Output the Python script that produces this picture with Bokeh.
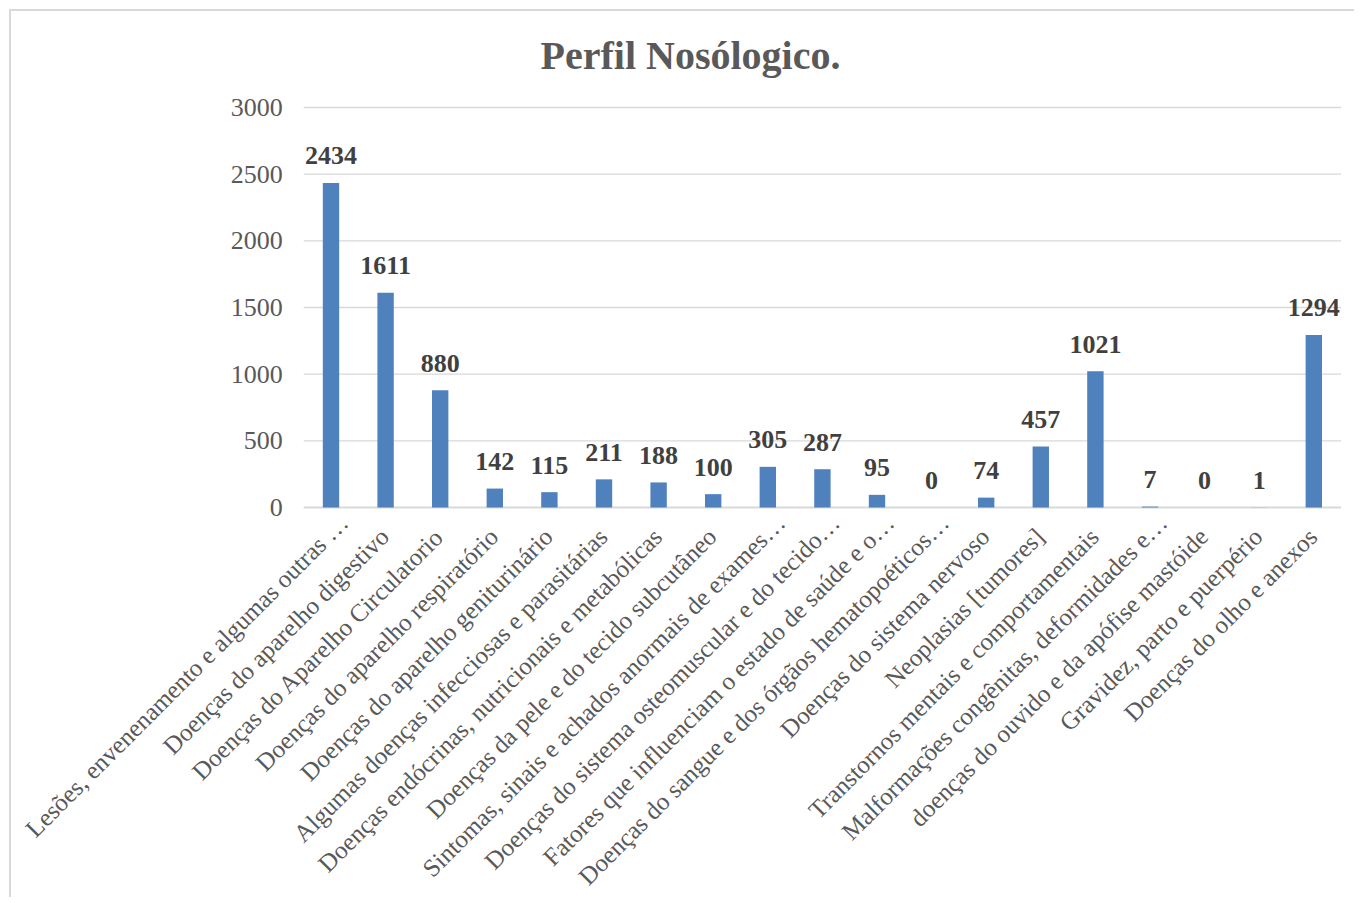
from bokeh.plotting import figure
from bokeh.models import ColumnDataSource, Range1d
from bokeh.embed import file_html
from bokeh.resources import INLINE
from bokeh.core.properties import value
import math

categories = [
    "Lesões, envenenamento e algumas outras …",
    "Doenças do aparelho digestivo",
    "Doenças do Aparelho Circulatorio",
    "Doenças do aparelho respiratório",
    "Doenças do aparelho geniturinário",
    "Algumas doenças infecciosas e parasitárias",
    "Doenças endócrinas, nutricionais e metabólicas",
    "Doenças da pele e do tecido subcutâneo",
    "Sintomas, sinais e achados anormais de exames…",
    "Doenças do sistema osteomuscular e do tecido…",
    "Fatores que influenciam o estado de saúde e o…",
    "Doenças do sangue e dos órgãos hematopoéticos…",
    "Doenças do sistema nervoso",
    "Neoplasias [tumores]",
    "Transtornos mentais e comportamentais",
    "Malformações congênitas, deformidades e…",
    "doenças do ouvido e da apófise mastóide",
    "Gravidez, parto e puerpério",
    "Doenças do olho e anexos",
]
counts = [2434, 1611, 880, 142, 115, 211, 188, 100, 305, 287, 95, 0, 74, 457, 1021, 7, 0, 1, 1294]
y_ticks = [0, 500, 1000, 1500, 2000, 2500, 3000]
title_text = "Perfil Nosólogico."

FONT = "Liberation Serif"
GRID = "#D9D9D9"
TXT = "#595959"

# ---- layout (pixels on the page) ----
W, H = 1345, 888          # canvas size
OFF = 11                  # canvas origin on page (margin + border)
STEP = 54.6               # px per category
FIRST = 330.5             # page x of first category centre
TOP3000 = 107             # page y of the top tick
PLOT_H = 400              # px from 0 to 3000
ymax = y_ticks[-1]

t = PLOT_H / ymax
x_start = -(FIRST - OFF) / STEP
x_end = x_start + W / STEP
y_end = ymax + (TOP3000 - OFF) / t
y_start = y_end - H / t

n = len(categories)
idx = list(range(n))

p = figure(width=W, height=H, x_range=Range1d(x_start, x_end), y_range=Range1d(y_start, y_end),
           output_backend="svg", toolbar_location=None, title=None, min_border=0)
p.styles = {"margin-left": "9px", "margin-top": "9px",
            "border-top": f"2px solid {GRID}", "border-left": f"2px solid {GRID}"}
p.xaxis.visible = False
p.yaxis.visible = False
p.xgrid.visible = False
p.ygrid.visible = False
p.outline_line_color = None
p.background_fill_color = "white"
p.border_fill_color = "white"

# gridlines and base line
gsrc = ColumnDataSource(dict(y=y_ticks, x0=[-0.5] * len(y_ticks), x1=[n - 0.5] * len(y_ticks),
                             lbl=[str(v) for v in y_ticks],
                             w=[2 if v == 0 else 1.3 for v in y_ticks]))
p.segment(x0="x0", x1="x1", y0="y", y1="y", source=gsrc, line_color=GRID, line_width="w")
# y tick labels
p.text(x="x0", y="y", text="lbl", source=gsrc, text_align="right", text_baseline="middle",
       x_offset=-21, text_font=value(FONT), text_font_size="26px", text_color=TXT)

# truncated (ellipsis) labels sit a little further along their direction, as in Excel
trunc = [c.endswith("…") for c in categories]
src = ColumnDataSource(dict(x=idx, cat=categories, val=counts, zero=[0] * n,
                            lbl=[str(v) for v in counts],
                            xo=[13 if tr else -1 for tr in trunc],
                            yo=[11 if tr else 25 for tr in trunc]))
p.vbar(x="x", top="val", width=0.3, source=src, fill_color="#4F81BD", line_color=None)

# value labels
p.text(x="x", y="val", text="lbl", source=src, text_align="center", text_baseline="alphabetic",
       y_offset=-27, text_font=value(FONT), text_font_style="bold", text_font_size="26px",
       text_color="#404040")

# category labels (rotated 45°)
p.text(x="x", y="zero", text="cat", source=src, angle=math.pi / 4, text_align="right",
       text_baseline="alphabetic", x_offset="xo", y_offset="yo",
       text_font=value(FONT), text_font_size="25px", text_color=TXT)

# title
tsrc = ColumnDataSource(dict(x=[x_start + (690 - OFF) / STEP], y=[y_end - (55 - OFF) / t],
                             t=[title_text]))
p.text(x="x", y="y", text="t", source=tsrc, text_align="center", text_baseline="alphabetic",
       text_font=value(FONT), text_font_style="bold", text_font_size="40px", text_color=TXT)

open("out.html", "w").write(file_html(p, INLINE))
